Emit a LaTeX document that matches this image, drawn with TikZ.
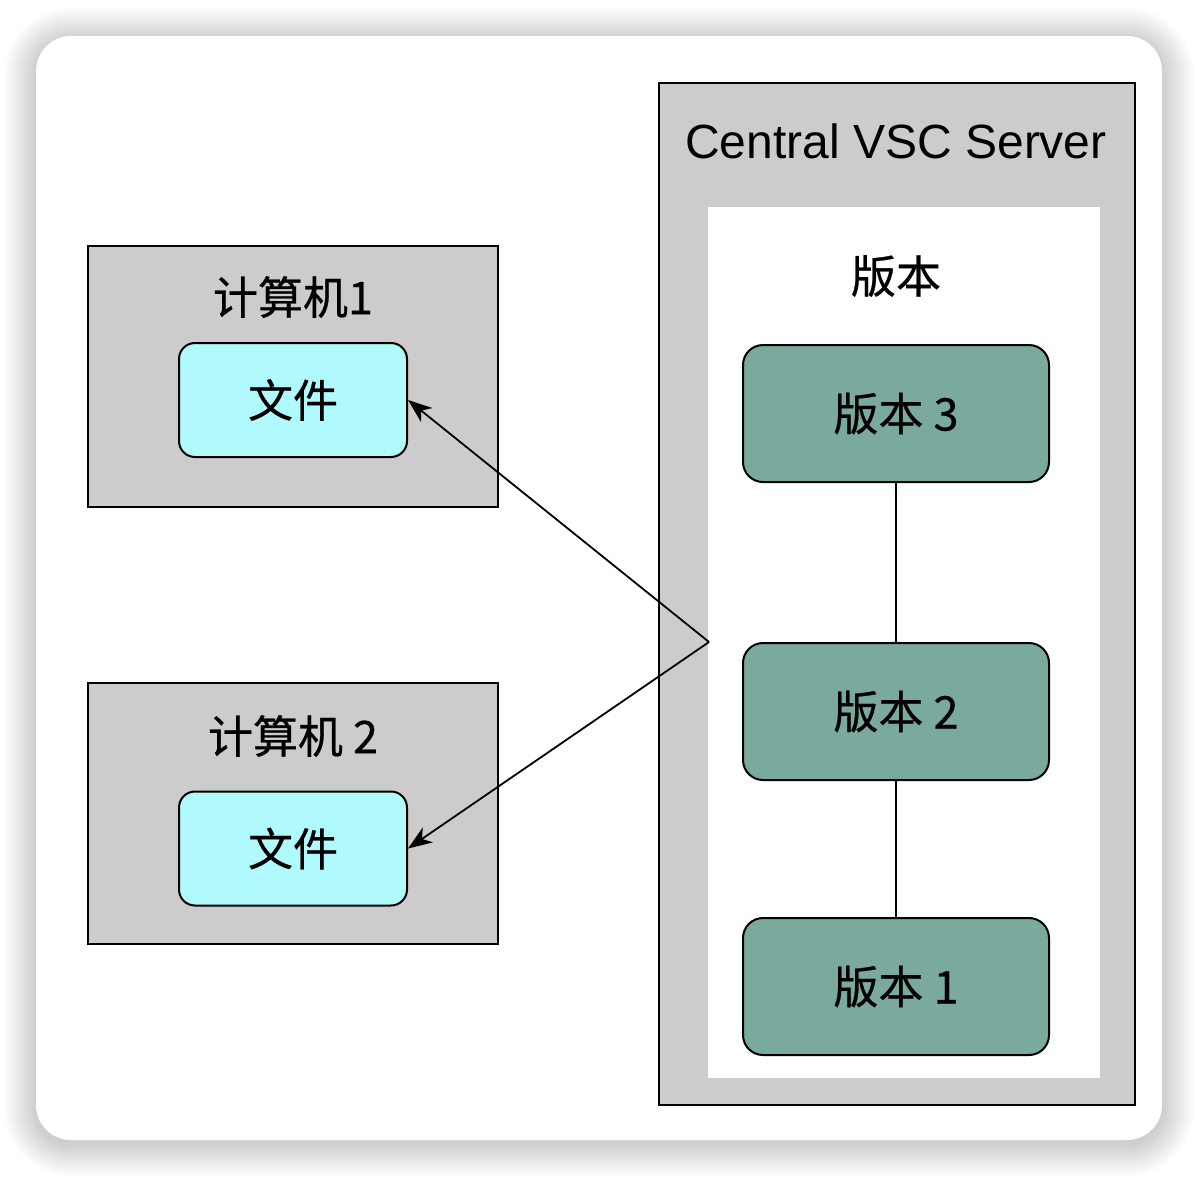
\documentclass[tikz,border=0pt]{standalone}
\usepackage{fontspec}
\setmainfont{Liberation Sans}
\newfontfamily\cjk[FakeBold=0.6]{Noto Sans CJK SC}
\usetikzlibrary{arrows.meta}
\definecolor{boxgray}{HTML}{CCCCCC}
\definecolor{filecyan}{HTML}{B0FAFE}
\definecolor{vergreen}{HTML}{7AA99D}
\tikzset{
  graybox/.style={draw=black, line width=2pt, fill=boxgray},
  filebox/.style={draw=black, line width=2pt, fill=filecyan, rounded corners=16pt},
  verbox/.style={draw=black, line width=2pt, fill=vergreen, rounded corners=20pt},
  cjklabel/.style={font=\cjk\fontsize{45}{50}\selectfont, inner sep=0pt},
  conn/.style={line width=1.8pt, draw=black},
}
\begin{document}
\begin{tikzpicture}[x=1pt,y=-1pt]
\useasboundingbox (0,0) rectangle (1198,1176);
\fill[white] (0,0) rectangle (1198,1176);
% shadow
\foreach \i in {1,...,16}{
  \fill[black, opacity=0.011, rounded corners={35pt+\i*2pt}]
    (36-\i*2, 40-\i*2) rectangle (1162+\i*2, 1144+\i*2);
}
\fill[white, rounded corners=35pt] (36,36) rectangle (1162,1140);

% computers
\path[graybox] (88,246) rectangle (498,507);
\node (comp1) at (293,246) {};
\node[cjklabel] (comp1t) at (293,297) {计算机1};
\node[filebox, minimum width=228pt, minimum height=114pt] (file1) at (293,400) {};
\node[cjklabel] at (file1.center) {文件};

\path[graybox] (88,683) rectangle (498,944);
\node (comp2) at (293,683) {};
\node[cjklabel] (comp2t) at (293,736) {计算机 2};
\node[filebox, minimum width=228pt, minimum height=114pt] (file2) at (293,848.5) {};
\node[cjklabel] at (file2.center) {文件};

% server
\path[graybox] (659,83) rectangle (1135,1105);
\node[font=\fontsize{48}{54}\selectfont, inner sep=0pt] (servert) at (896,141) {Central VSC Server};
\fill[white] (708,207) rectangle (1100,1078);
\node[cjklabel] (verst) at (896,276) {版本};

\node[verbox, minimum width=306pt, minimum height=137pt] (v3) at (896,413.5) {};
\node[cjklabel] at (v3.center) {版本 3};
\node[verbox, minimum width=306pt, minimum height=137pt] (v2) at (896,711.5) {};
\node[cjklabel] at (v2.center) {版本 2};
\node[verbox, minimum width=306pt, minimum height=137pt] (v1) at (896,986.5) {};
\node[cjklabel] at (v1.center) {版本 1};

\draw[conn] (v3.south) -- (v2.north);
\draw[conn] (v2.south) -- (v1.north);

\coordinate (hub) at (709,642);
\draw[conn, -{Stealth[length=24pt,width=18pt,inset=7pt]}] (hub) -- (file1.east);
\draw[conn, -{Stealth[length=24pt,width=18pt,inset=7pt]}] (hub) -- (file2.east);
\end{tikzpicture}
\end{document}
